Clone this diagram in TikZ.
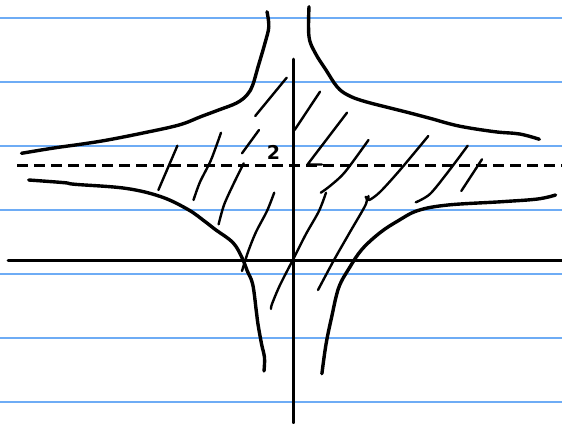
\documentclass[tikz,border=0pt]{standalone}
\usepackage{fontspec}
\setsansfont{DejaVu Sans}
\usetikzlibrary{calc}
\definecolor{ruled}{RGB}{110,172,245}
\tikzset{
  ruleline/.style={draw=ruled, line width=2pt},
  axisline/.style={black, line width=2.6pt},
  curveline/.style={black, line width=3.4pt, line cap=round, line join=round},
  hatchline/.style={black, line width=2.4pt, line cap=round, line join=round},
  dashline/.style={black, line width=3pt, dash pattern=on 11pt off 6pt}
}
\begin{document}
\begin{tikzpicture}[x=1pt,y=-1pt]
\useasboundingbox (0,0) rectangle (562,423);
\fill[white] (0,0) rectangle (562,423);
% ruled paper
\foreach \yy in {17.5,81.5,145.5,209.5,273.5,337.5,401.5}
  \draw[ruleline] (0,\yy) -- (562,\yy);
% axes
\coordinate (xl) at (8,260.5);
\coordinate (xr) at (562,260.5);
\coordinate (yt) at (293.5,59);
\coordinate (yb) at (293.5,423);
\draw[axisline, line cap=round] (xl) -- (xr);
\draw[axisline, line cap=round] (yt) -- (yb);
% dashed asymptote
\coordinate (dl) at (17,165.7);
\coordinate (dr) at (562,165.7);
\draw[dashline] (dl) -- (dr);
% curves
\draw[curveline] plot[smooth, tension=0.6] coordinates {
 (267,11.7) (268.8,26.7) (265,43) (258,67) (252.7,85) (247,95) (236.6,103)
 (218.6,110) (200.7,116.7) (179,125) (143,133) (107.5,140) (82.4,144) (53.8,148) (21.5,153.3)};
\draw[curveline] plot[smooth, tension=0.6] coordinates {
 (309,6.7) (309,36.7) (315.4,53.3) (326,70) (337,86.7) (347.7,95) (365.6,101.7)
 (405,111.7) (430,118.3) (458.8,126) (494.6,131.7) (519.7,134) (539.4,139.3)};
\draw[curveline] plot[smooth, tension=0.6] coordinates {
 (28.7,180) (64.5,182.7) (75,184.3) (125.4,188.3) (161,196.7) (188,209.5)
 (204.3,221) (215,229.3) (233,242.7) (242,257.7) (247.3,271) (252.7,284.3)
 (256.3,311) (258,324.3) (261.6,344.3) (264.5,357.7) (264,371)};
\draw[curveline] plot[smooth, tension=0.6] coordinates {
 (555.6,195) (537.6,199) (501.8,201.7) (448,205) (418,210.5)
 (397.8,221) (380,232.7) (362,249.3) (349.5,267.7) (338.7,287.7)
 (331.5,317.7) (326,344.3) (321.9,373.7)};
% hatching
\draw[hatchline] (286.7,77.7) -- (255.2,116);
\draw[hatchline] (320,91.7) -- (294.6,130);
\draw[hatchline] (347,112.7) -- (307.5,164.5) -- (322,164.5);
\draw[hatchline] (259,130) -- (242,153.3);
\draw[hatchline] plot[smooth] coordinates {(221,132.7) (211,160) (200,182) (193.5,200)};
\draw[hatchline] (177.4,145.7) -- (158.4,190);
\draw[hatchline] plot[smooth] coordinates {(243.7,163.3) (233,185) (224,205) (218.6,224.3)};
\draw[hatchline] plot[smooth] coordinates {(368.5,140) (345,172) (330,186) (320.8,192.7)};
\draw[hatchline] plot[smooth] coordinates {(428.3,136) (400,170) (380,192) (369.2,200) (368.5,196)};
\draw[hatchline] plot[smooth] coordinates {(467.7,145.7) (448,172) (430,194) (415.8,202.3)};
\draw[hatchline] (482,159.3) -- (461.3,191);
\draw[hatchline] plot[smooth] coordinates {(274.2,192.7) (267,211) (256,232) (248,252) (242,271)};
\draw[hatchline] plot[smooth] coordinates {(326,192.7) (319,211) (306,234) (294,257.7) (280,285) (272,304) (271,309)};
\draw[hatchline] plot[smooth] coordinates {(365.6,196.7) (366,204) (350,232) (334,260) (318,290)};
% label
\node[font=\sffamily\bfseries\fontsize{19}{19}\selectfont, inner sep=0pt] (two) at (273.5,152.5) {2};
\end{tikzpicture}
\end{document}
